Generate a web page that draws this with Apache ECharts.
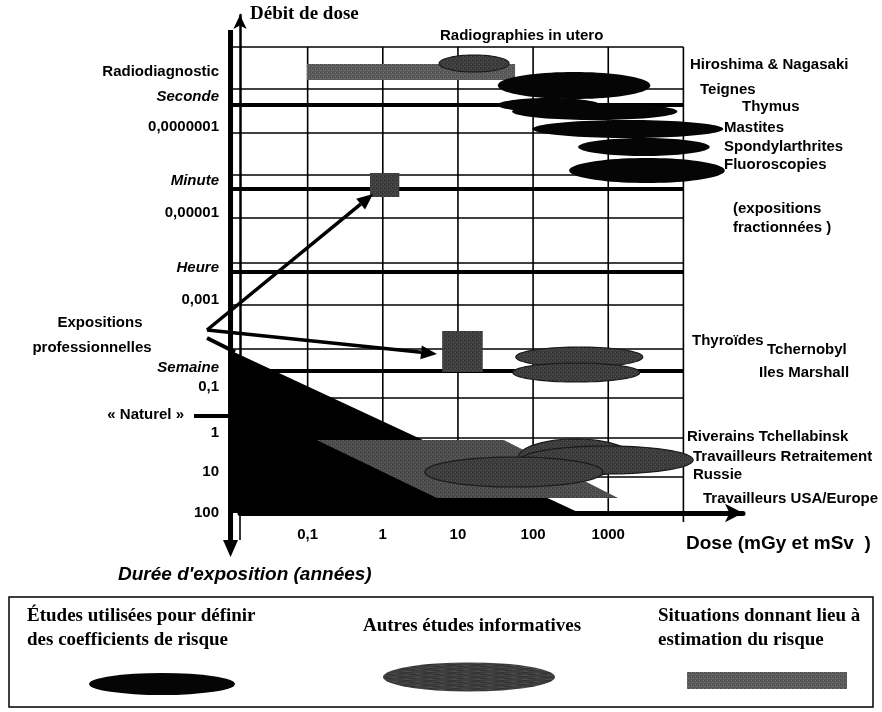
<!DOCTYPE html>
<html>
<head>
<meta charset="utf-8">
<script src="https://cdn.jsdelivr.net/npm/echarts@6/dist/echarts.min.js"></script>
<style>
body { margin: 0; padding: 0; background: #fff; }
#chart { width: 882px; height: 712px; }
</style>
</head>
<body>
<div id="chart"></div>
<script>
// x : log10 de la dose (mGy / mSv), y : niveau du schéma (débit de dose / durée)
const doseTicks = [-1, 0, 1, 2, 3];
const doseTickLabels = ['0,1', '1', '10', '100', '1000'];
const gridX = [-1, 0, 1, 2, 3, 4];
const thinLevels = [46.6, 42.4, 38.0, 33.8, 29.5, 25.0, 20.8, 16.4, 11.5, 7.5, 3.6];
const timeLevels = [40.8, 32.4, 24.1, 14.2]; // Seconde, Minute, Heure, Semaine
const yLabelLevels = [44.1, 41.6, 38.6, 33.2, 30.0, 24.5, 21.3, 14.5, 12.6, 8.0, 4.1, 0];
const yLabelTexts = ['Radiodiagnostic', '{it|Seconde}', '0,0000001', '{it|Minute}', '0,00001',
  '{it|Heure}', '0,001', '{it|Semaine}', '0,1', '1', '10', '100'];

// ellipses : [x début, x fin, y bas, y haut]
const coefStudies = [
  [1.53, 3.56, 41.4, 44.1], // Hiroshima & Nagasaki
  [1.53, 2.89, 40.1, 41.5], // Teignes
  [1.72, 3.92, 39.3, 41.0], // Thymus
  [1.99, 4.53, 37.5, 39.3], // Mastites
  [2.60, 4.35, 35.7, 37.5], // Spondylarthrites
  [2.48, 4.55, 33.0, 35.5]  // Fluoroscopies
];
const otherStudies = [
  [0.75, 1.68, 44.1, 45.8], // Radiographies in utero
  [1.77, 3.46, 14.6, 16.6], // Thyroïdes Tchernobyl
  [1.73, 3.42, 13.1, 15.0], // Iles Marshall
  [1.80, 3.33, 3.6, 7.4],   // Riverains Tchellabinsk
  [1.83, 4.13, 3.9, 6.7],   // Travailleurs Retraitement
  [0.56, 2.93, 2.6, 5.6]    // Russie
];
// rectangles : [x début, x fin, y bas, y haut]
const situations = [
  [-1.01, 1.76, 43.3, 44.9], // Radiodiagnostic
  [-0.17, 0.22, 31.6, 34.0], // Minute
  [0.79, 1.33, 14.1, 18.2]   // Expositions professionnelles
];
const naturalZone = [[-2.01, 16.2], [2.62, 0], [-2.01, 0]];
const workersZone = [[-0.88, 7.3], [1.61, 7.3], [3.13, 1.5], [0.72, 1.5]];
const zones = [naturalZone, workersZone];
// flèches : [x1, y1, x2, y2]
const arrows = [
  [-2.026, 48.3, -2.026, -4.4],
  [-2.339, 18.3, -0.13, 31.9],
  [-2.339, 18.3, 0.721, 15.9]
];
const extraLines = [
  [-2.339, 17.5, -1.967, 16.1],
  [-2.512, 9.7, -2.033, 9.7]
];

const thinSegments = [[-1.9, 0, -1.9, -2.7]];
gridX.forEach(function (x) {
  thinSegments.push([x, x === 4 ? -0.9 : 0, x, 46.6]);
});
thinLevels.forEach(function (y) {
  thinSegments.push([-2.0, y, 4, y]);
});
const thickSegments = timeLevels.map(function (y) { return [-2.0, y, 4, y]; });

// trame grise façon photocopie
function screen(base, dark, light) {
  const c = document.createElement('canvas');
  c.width = 4; c.height = 4;
  const g = c.getContext('2d');
  g.fillStyle = base; g.fillRect(0, 0, 4, 4);
  g.fillStyle = dark;
  g.fillRect(0, 0, 1, 1); g.fillRect(2, 1, 1, 1); g.fillRect(1, 3, 1, 1);
  g.fillStyle = light;
  g.fillRect(3, 0, 1, 1); g.fillRect(1, 2, 1, 1);
  return { image: c, repeat: 'repeat' };
}
const grayOther = screen('#3e3e3e', '#303030', '#525252');
const grayZone = screen('#4e4e4e', '#3e3e3e', '#626262');
const graySit = screen('#5c5c5c', '#4a4a4a', '#727272');
const graySitDark = screen('#404040', '#323232', '#555555');

function segmentSeries(data, width, z) {
  return {
    type: 'custom',
    z: z,
    silent: true,
    renderItem: function (params, api) {
      const a = api.coord([api.value(0), api.value(1)]);
      const b = api.coord([api.value(2), api.value(3)]);
      return {
        type: 'line',
        shape: { x1: a[0], y1: a[1], x2: b[0], y2: b[1] },
        style: { stroke: '#000', lineWidth: width }
      };
    },
    data: data
  };
}

function ellipseSeries(data, fill, stroke, z) {
  return {
    type: 'custom',
    z: z,
    silent: true,
    renderItem: function (params, api) {
      const p0 = api.coord([api.value(0), api.value(3)]);
      const p1 = api.coord([api.value(1), api.value(2)]);
      const cx = (p0[0] + p1[0]) / 2, cy = (p0[1] + p1[1]) / 2;
      const rx = Math.abs(p1[0] - p0[0]) / 2, ry = Math.abs(p1[1] - p0[1]) / 2;
      const pts = [];
      for (let i = 0; i < 80; i++) {
        const t = i / 80 * Math.PI * 2;
        pts.push([cx + rx * Math.cos(t), cy + ry * Math.sin(t)]);
      }
      return {
        type: 'polygon',
        shape: { points: pts },
        style: { fill: fill, stroke: stroke, lineWidth: stroke ? 1.2 : 0 }
      };
    },
    data: data
  };
}

const chart = echarts.init(document.getElementById('chart'));

const bold = 'bold 15px "Liberation Sans", Arial, sans-serif';
function txt(text, x, y, font, align) {
  return {
    type: 'text', x: x, y: y, silent: true,
    style: { text: text, font: font || bold, fill: '#000', align: align || 'left', verticalAlign: 'middle' }
  };
}
const serif = 'bold 19px "Liberation Serif", "Times New Roman", serif';

chart.setOption({
  animation: false,
  backgroundColor: '#fff',
  grid: { left: 240, right: 139, top: 15, bottom: 199 },
  xAxis: {
    type: 'value', min: -1.9, max: 4.793, z: 8,
    axisLine: { onZero: true, symbol: ['none', 'arrow'], symbolSize: [14, 18], lineStyle: { color: '#000', width: 5 } },
    axisTick: { show: false },
    splitLine: { show: false },
    axisLabel: {
      customValues: doseTicks, margin: 14, color: '#000', fontSize: 15, fontWeight: 'bold',
      fontFamily: '"Liberation Sans", Arial, sans-serif',
      formatter: function (v) { return doseTickLabels[doseTicks.indexOf(v)]; }
    }
  },
  yAxis: {
    type: 'value', min: 0, max: 49.8, z: 8,
    axisLine: { onZero: false, symbol: ['none', 'arrow'], symbolSize: [10, 14], lineStyle: { color: '#000', width: 2.5 } },
    axisTick: { show: false },
    splitLine: { show: false },
    axisLabel: {
      customValues: yLabelLevels, margin: 21, color: '#000', fontSize: 15, fontWeight: 'bold',
      fontFamily: '"Liberation Sans", Arial, sans-serif',
      formatter: function (v) {
        const i = yLabelLevels.findIndex(function (l) { return Math.abs(l - v) < 1e-6; });
        return yLabelTexts[i];
      },
      rich: { it: { fontStyle: 'italic', fontWeight: 'bold', fontSize: 15, color: '#000', fontFamily: '"Liberation Sans", Arial, sans-serif' } }
    }
  },
  series: [
    segmentSeries(thinSegments, 1.6, 1),
    segmentSeries(thickSegments, 4, 2),
    segmentSeries(extraLines, 4, 2),
    {
      type: 'custom',
      z: 3,
      silent: true,
      renderItem: function (params, api) {
        const pts = zones[params.dataIndex].map(function (p) { return api.coord(p); });
        return {
          type: 'polygon',
          shape: { points: pts },
          style: { fill: params.dataIndex === 0 ? '#000' : grayZone }
        };
      },
      data: [[0], [1]]
    },
    {
      type: 'custom',
      z: 4,
      silent: true,
      renderItem: function (params, api) {
        const p0 = api.coord([api.value(0), api.value(3)]);
        const p1 = api.coord([api.value(1), api.value(2)]);
        return {
          type: 'rect',
          shape: { x: p0[0], y: p0[1], width: p1[0] - p0[0], height: p1[1] - p0[1] },
          style: { fill: params.dataIndex === 0 ? graySit : graySitDark }
        };
      },
      data: situations
    },
    ellipseSeries(otherStudies, grayOther, '#1a1a1a', 5),
    ellipseSeries(coefStudies, '#050505', null, 6),
    {
      type: 'custom',
      z: 7,
      silent: true,
      renderItem: function (params, api) {
        const a = api.coord([api.value(0), api.value(1)]);
        const b = api.coord([api.value(2), api.value(3)]);
        const big = params.dataIndex === 0;
        const len = big ? 17 : 16, half = big ? 7.5 : 7;
        const dx = b[0] - a[0], dy = b[1] - a[1];
        const d = Math.sqrt(dx * dx + dy * dy);
        const ux = dx / d, uy = dy / d;
        const bx = b[0] - ux * len, by = b[1] - uy * len;
        return {
          type: 'group',
          children: [
            { type: 'line', shape: { x1: a[0], y1: a[1], x2: bx, y2: by }, style: { stroke: '#000', lineWidth: big ? 5 : 3.5 } },
            { type: 'polygon', shape: { points: [[b[0], b[1]], [bx - uy * half, by + ux * half], [bx + uy * half, by - ux * half]] }, style: { fill: '#000' } }
          ]
        };
      },
      data: arrows
    }
  ],
  graphic: [
    txt('Débit de dose', 250, 14, serif),
    txt('Radiographies in utero', 440, 36),
    txt('Hiroshima & Nagasaki', 690, 65),
    txt('Teignes', 700, 90),
    txt('Thymus', 742, 107),
    txt('Mastites', 724, 128),
    txt('Spondylarthrites', 724, 147),
    txt('Fluoroscopies', 724, 165),
    txt('(expositions', 733, 209),
    txt('fractionnées )', 733, 228),
    txt('Thyroïdes', 692, 341),
    txt('Tchernobyl', 767, 350),
    txt('Iles Marshall', 759, 373),
    txt('Riverains Tchellabinsk', 687, 437),
    txt('Travailleurs Retraitement', 693, 457),
    txt('Russie', 693, 475),
    txt('Travailleurs USA/Europe', 703, 499),
    txt('Expositions', 100, 323, null, 'center'),
    txt('professionnelles', 92, 348, null, 'center'),
    txt('« Naturel »', 184, 415, null, 'right'),
    txt('Dose (mGy et mSv  )', 686, 544, 'bold 19px "Liberation Sans", Arial, sans-serif'),
    txt("Durée d'exposition (années)", 118, 575, 'italic bold 19px "Liberation Sans", Arial, sans-serif'),
    {
      type: 'rect', silent: true,
      shape: { x: 9, y: 597, width: 864, height: 110 },
      style: { fill: 'none', stroke: '#000', lineWidth: 1.5 }
    },
    txt('Études utilisées pour définir', 27, 616, serif),
    txt('des coefficients de risque', 27, 640, serif),
    txt('Autres études informatives', 363, 626, serif),
    txt('Situations donnant lieu à', 658, 616, serif),
    txt('estimation du risque', 658, 640, serif),
    { type: 'circle', silent: true, x: 162, y: 684, scaleX: 73 / 11, shape: { cx: 0, cy: 0, r: 11 }, style: { fill: '#050505' } },
    { type: 'circle', silent: true, x: 469, y: 677, scaleX: 86 / 14.5, shape: { cx: 0, cy: 0, r: 14.5 }, style: { fill: grayOther } },
    { type: 'rect', silent: true, shape: { x: 687, y: 672, width: 160, height: 17 }, style: { fill: graySit } }
  ]
});
</script>
</body>
</html>
